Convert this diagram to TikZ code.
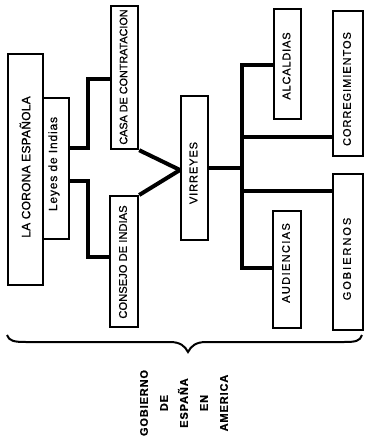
\documentclass[tikz,border=0pt]{standalone}
\usepackage{fontspec}
\setmainfont{Liberation Sans}
\newfontfamily\lab[FakeBold=0.8]{Liberation Sans}
\tikzset{
  box/.style={draw, line width=2.2pt, fill=white, inner sep=0pt, anchor=north west},
  conn/.style={line width=4pt, line join=miter},
  lbl/.style={rotate=90, inner sep=0pt, text=black},
}
\newcommand{\fs}[1]{\fontsize{#1}{#1}\selectfont}
\newcommand{\ls}[1]{\addfontfeature{LetterSpace=#1}}
\begin{document}
\begin{tikzpicture}[x=1pt,y=-1pt]
\useasboundingbox (0,0) rectangle (365,445);
% boxes
\node[box, minimum width=35pt, minimum height=231pt] (corona) at (7,53) {};
\node[box, minimum width=26pt, minimum height=141pt] (leyes) at (42,97) {};
\node[box, minimum width=27pt, minimum height=143pt] (casa) at (110,5) {};
\node[box, minimum width=28pt, minimum height=131pt] (consejo) at (109,195) {};
\node[box, minimum width=27pt, minimum height=144pt] (virreyes) at (180,95) {};
\node[box, minimum width=27pt, minimum height=110pt] (alcaldias) at (273,8) {};
\node[box, minimum width=30pt, minimum height=145pt] (correg) at (332,10) {};
\node[box, minimum width=28pt, minimum height=117pt] (audiencias) at (272,210) {};
\node[box, minimum width=30pt, minimum height=156pt] (gobiernos) at (332,173) {};
% labels
\node[lbl, font={\lab\fs{12}\ls{2}}] (coronaT) at (25,167) {LA CORONA ESPAÑOLA};
\node[lbl, font={\lab\fs{12}\ls{7}}] (leyesT) at (54,164) {Leyes de Indias};
\node[lbl, font={\lab\fs{10.8}}] (casaT) at (123.5,77) {CASA DE CONTRATACION};
\node[lbl, font={\lab\fs{11.2}}] (consejoT) at (123,262) {CONSEJO DE INDIAS};
\node[lbl, font={\lab\fs{11}\ls{8.4}}] (virreyesT) at (193.5,173) {VIRREYES};
\node[lbl, font={\lab\fs{11}\ls{7.6}}] (alcaldiasT) at (286.5,66) {ALCALDIAS};
\node[lbl, font={\lab\fs{11}\ls{8.8}}] (corregT) at (347,89) {CORREGIMIENTOS};
\node[lbl, font={\lab\fs{11}\ls{12.5}}] (audienciasT) at (286,263) {AUDIENCIAS};
\node[lbl, font={\lab\fs{11}\ls{18}}] (gobiernosT) at (347,259) {GOBIERNOS};
% connectors left
\coordinate (ja) at (88,148);
\coordinate (jb) at (88,79);
\coordinate (jc) at (88,181);
\coordinate (jd) at (88,257);
\draw[conn] (leyes.east |- ja) -- (ja) -- (jb) -- (casa.west |- jb);
\draw[conn] (leyes.east |- jc) -- (jc) -- (jd) -- (consejo.west |- jd);
\coordinate (vp) at (180,170);
\draw[conn] (casa.south east) -- (vp);
\draw[conn] (consejo.north east) -- (vp);
% connectors right
\coordinate (t0) at (242,168);
\coordinate (ta) at (242,65);
\coordinate (tb) at (242,268);
\coordinate (tc) at (242,137);
\coordinate (td) at (242,191);
\draw[conn] (virreyes.east |- t0) -- (t0);
\draw[conn] (alcaldias.west |- ta) -- (ta) -- (tb) -- (audiencias.west |- tb);
\draw[conn] (tc) -- (correg.west |- tc);
\draw[conn] (td) -- (gobiernos.west |- td);
% brace
\coordinate (bl) at (7,335);
\coordinate (br) at (362,335);
\coordinate (btip) at (188,352);
\draw[line width=2pt] (bl) .. controls (9,341) and (14,342) .. (26,342) -- (170,342)
  .. controls (180,342) and (185,346) .. (btip)
  .. controls (191,346) and (196,342) .. (206,342) -- (344,342)
  .. controls (356,342) and (360,341) .. (br);
% bottom text
\node[rotate=90, align=center, font={\lab\bfseries\fs{11}\ls{8}}, inner sep=0pt, text=black, execute at begin node={\baselineskip=20pt}] (gob) at (184,403)
  {GOBIERNO\\DE\\ESPAÑA\\EN\\AMERICA};
\end{tikzpicture}
\end{document}
